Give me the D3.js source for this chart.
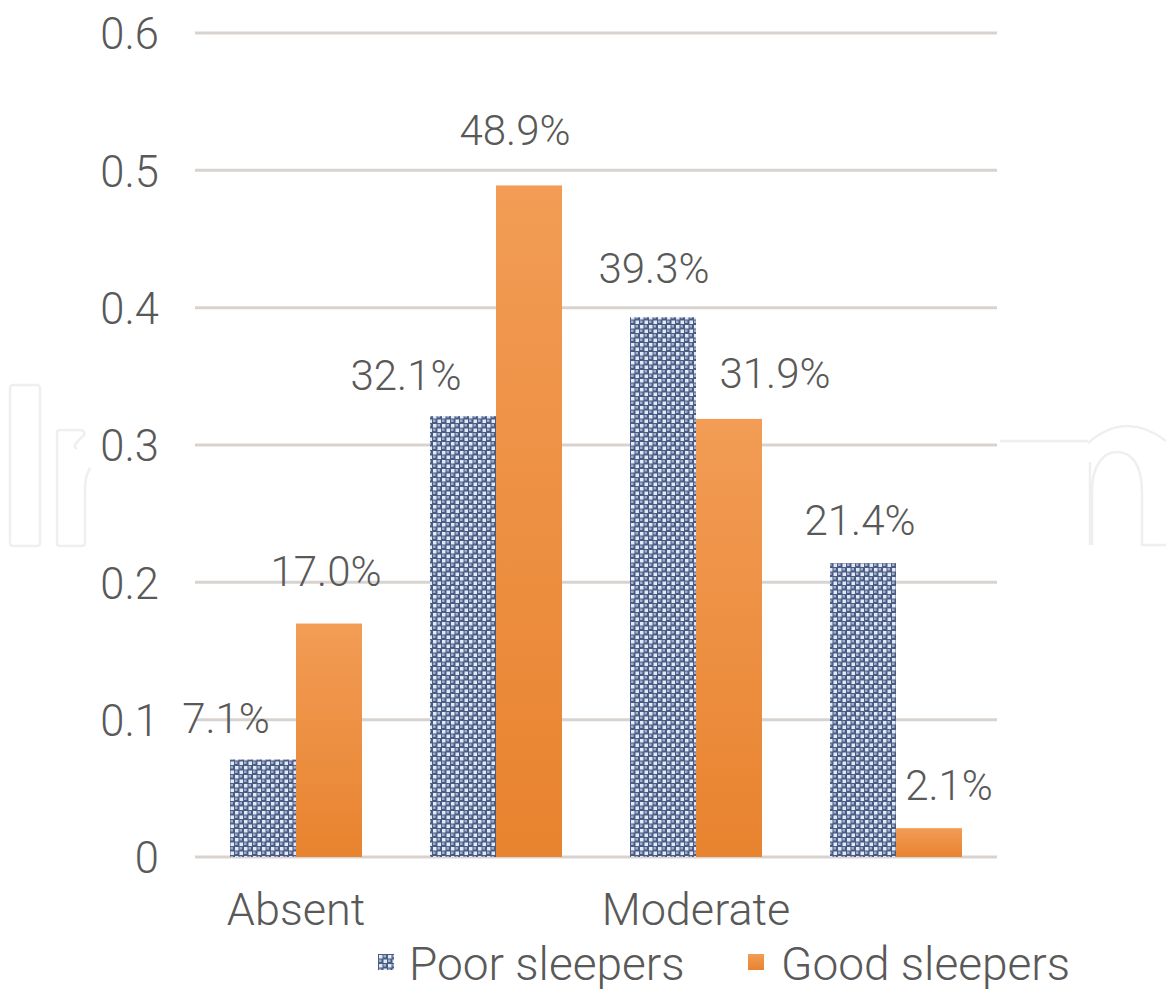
<!DOCTYPE html>
<html>
<head>
<meta charset="utf-8">
<script src="https://cdn.jsdelivr.net/npm/d3@7/dist/d3.min.js"></script>
<style>
  html, body { margin: 0; padding: 0; background: #ffffff; }
  svg { display: block; }
  text { font-family: Roboto, "Liberation Sans", Arial, sans-serif; font-weight: 300; fill: #595959; }
</style>
</head>
<body>
<svg id="chart" width="1166" height="991"></svg>
<script>
// Sleep-quality groups by severity category
const categories = ["Absent", "Mild", "Moderate", "Severe"];
const poorSleepers = [0.071, 0.321, 0.393, 0.214];
const goodSleepers = [0.170, 0.489, 0.319, 0.021];
const seriesNames = ["Poor sleepers", "Good sleepers"];
const yTicks = [0, 0.1, 0.2, 0.3, 0.4, 0.5, 0.6];
const yTickLabels = ["0", "0.1", "0.2", "0.3", "0.4", "0.5", "0.6"];

// Label nudges (dx from bar centre, dy from bar top) for each series
const poorLabelNudge = [[-37, -26], [-57, -26], [-9, -34], [-3, -28]];
const goodLabelNudge = [[-3, -38], [-14, -40], [46, -31], [20, -28]];

const svg = d3.select("#chart");
const defs = svg.append("defs");

// Checker fill for the poor-sleeper bars
const pat = defs.append("pattern")
  .attr("id", "checker").attr("patternUnits", "userSpaceOnUse")
  .attr("width", 9).attr("height", 9);
pat.append("rect").attr("width", 9).attr("height", 9).attr("fill", "#4b5b84");
pat.append("rect").attr("x", 1).attr("y", 1).attr("width", 3.5).attr("height", 3.5).attr("fill", "#e2eaf6");
pat.append("rect").attr("x", 5.5).attr("y", 5.5).attr("width", 3.5).attr("height", 3.5).attr("fill", "#e2eaf6");
pat.append("rect").attr("x", 5.5).attr("y", 1).attr("width", 2.5).attr("height", 2.5).attr("fill", "#9fb0cc");
pat.append("rect").attr("x", 1).attr("y", 5.5).attr("width", 2.5).attr("height", 2.5).attr("fill", "#9fb0cc");

// Orange gradient for the good-sleeper bars
const grad = defs.append("linearGradient")
  .attr("id", "orangeGrad").attr("x1", 0).attr("y1", 0).attr("x2", 0).attr("y2", 1);
grad.append("stop").attr("offset", "0%").attr("stop-color", "#f29c55");
grad.append("stop").attr("offset", "100%").attr("stop-color", "#e8832f");

// Faint outlined backdrop lettering
const wm = svg.append("g").attr("fill", "none").attr("stroke", "#efefef").attr("stroke-width", 2.5);
wm.append("rect").attr("x", 10).attr("y", 385).attr("width", 30).attr("height", 161).attr("rx", 3);
wm.append("path").attr("d",
  "M90,468 Q85,476 85,490 L85,543 Q85,546 82,546 L60,546 Q57,546 57,543 L57,433 Q57,430 60,430 L80,430 Q86,431 84,435 L76,443 Q73,447 77,449");
wm.append("path").attr("d", "M1000,441 L1088,441");
wm.append("path").attr("d", "M1088,443 Q1126,410 1166,441");
wm.append("path").attr("d",
  "M1090,545 L1090,462 M1092,545 L1092,492 C1092,464 1104,452 1117,452 C1131,452 1142,464 1142,492 L1142,545 L1166,545");

// Chart area backdrop
svg.append("rect").attr("x", 92).attr("y", 0).attr("width", 906).attr("height", 991).attr("fill", "#ffffff");

const x0 = d3.scaleBand().domain(categories).range([196, 996]).paddingInner(0.34).paddingOuter(0.17);
const x1 = d3.scaleBand().domain(seriesNames).range([0, x0.bandwidth()]);
const y = d3.scaleLinear().domain([0, 0.6]).range([857, 33]);

// Gridlines
svg.append("g").selectAll("line").data(yTicks).join("line")
  .attr("x1", 195).attr("x2", 997)
  .attr("y1", d => y(d)).attr("y2", d => y(d))
  .attr("stroke", "#d9d3cf").attr("stroke-width", 3);

// Y axis labels
const yAxis = d3.axisLeft(y).tickValues(yTicks).tickSize(0)
  .tickFormat((d, i) => yTickLabels[i]);
const yg = svg.append("g").attr("transform", "translate(162,0)").call(yAxis);
yg.select(".domain").remove();
yg.selectAll("text").attr("font-size", 43.5).attr("fill", "#595959")
  .style("font-family", "Roboto, 'Liberation Sans', Arial, sans-serif").style("font-weight", 300)
  .attr("dy", "0.36em");

// Bars
const groups = categories.map((c, i) => ({ c, poor: poorSleepers[i], good: goodSleepers[i], i }));
const barG = svg.append("g");
barG.selectAll("rect.poor").data(groups).join("rect").attr("class", "poor")
  .attr("x", d => x0(d.c) + x1(seriesNames[0]))
  .attr("width", x1.bandwidth())
  .attr("y", d => y(d.poor)).attr("height", d => y(0) - y(d.poor))
  .attr("fill", "url(#checker)");
barG.selectAll("rect.good").data(groups).join("rect").attr("class", "good")
  .attr("x", d => x0(d.c) + x1(seriesNames[1]))
  .attr("width", x1.bandwidth())
  .attr("y", d => y(d.good)).attr("height", d => y(0) - y(d.good))
  .attr("fill", "url(#orangeGrad)");

// Value labels
const fmt = d3.format(".1%");
const lblG = svg.append("g").attr("font-size", 42).attr("text-anchor", "middle");
lblG.selectAll("text.poor").data(groups).join("text").attr("class", "poor")
  .attr("x", d => x0(d.c) + x1(seriesNames[0]) + x1.bandwidth() / 2 + poorLabelNudge[d.i][0])
  .attr("y", d => y(d.poor) + poorLabelNudge[d.i][1])
  .text(d => fmt(d.poor));
lblG.selectAll("text.good").data(groups).join("text").attr("class", "good")
  .attr("x", d => x0(d.c) + x1(seriesNames[1]) + x1.bandwidth() / 2 + goodLabelNudge[d.i][0])
  .attr("y", d => y(d.good) + goodLabelNudge[d.i][1])
  .text(d => fmt(d.good));

// Category axis: every other label fits
const xAxis = d3.axisBottom(x0).tickSize(0)
  .tickValues(categories.filter((c, i) => i % 2 === 0));
const xg = svg.append("g").attr("transform", "translate(0,857)").call(xAxis);
xg.select(".domain").remove();
xg.selectAll("text").attr("font-size", 45).attr("fill", "#595959")
  .style("font-family", "Roboto, 'Liberation Sans', Arial, sans-serif").style("font-weight", 300)
  .attr("y", 68).attr("dy", 0);

// Legend
const legend = svg.append("g");
const legendItems = [
  { name: seriesNames[0], fill: "url(#checker)", mx: 378, tx: 409 },
  { name: seriesNames[1], fill: "url(#orangeGrad)", mx: 748, tx: 781 }
];
legend.selectAll("rect").data(legendItems).join("rect")
  .attr("x", d => d.mx).attr("y", 954).attr("width", 16).attr("height", 16)
  .attr("fill", d => d.fill);
legend.selectAll("text").data(legendItems).join("text")
  .attr("x", d => d.tx).attr("y", 980).attr("font-size", 46)
  .text(d => d.name);
</script>
</body>
</html>
